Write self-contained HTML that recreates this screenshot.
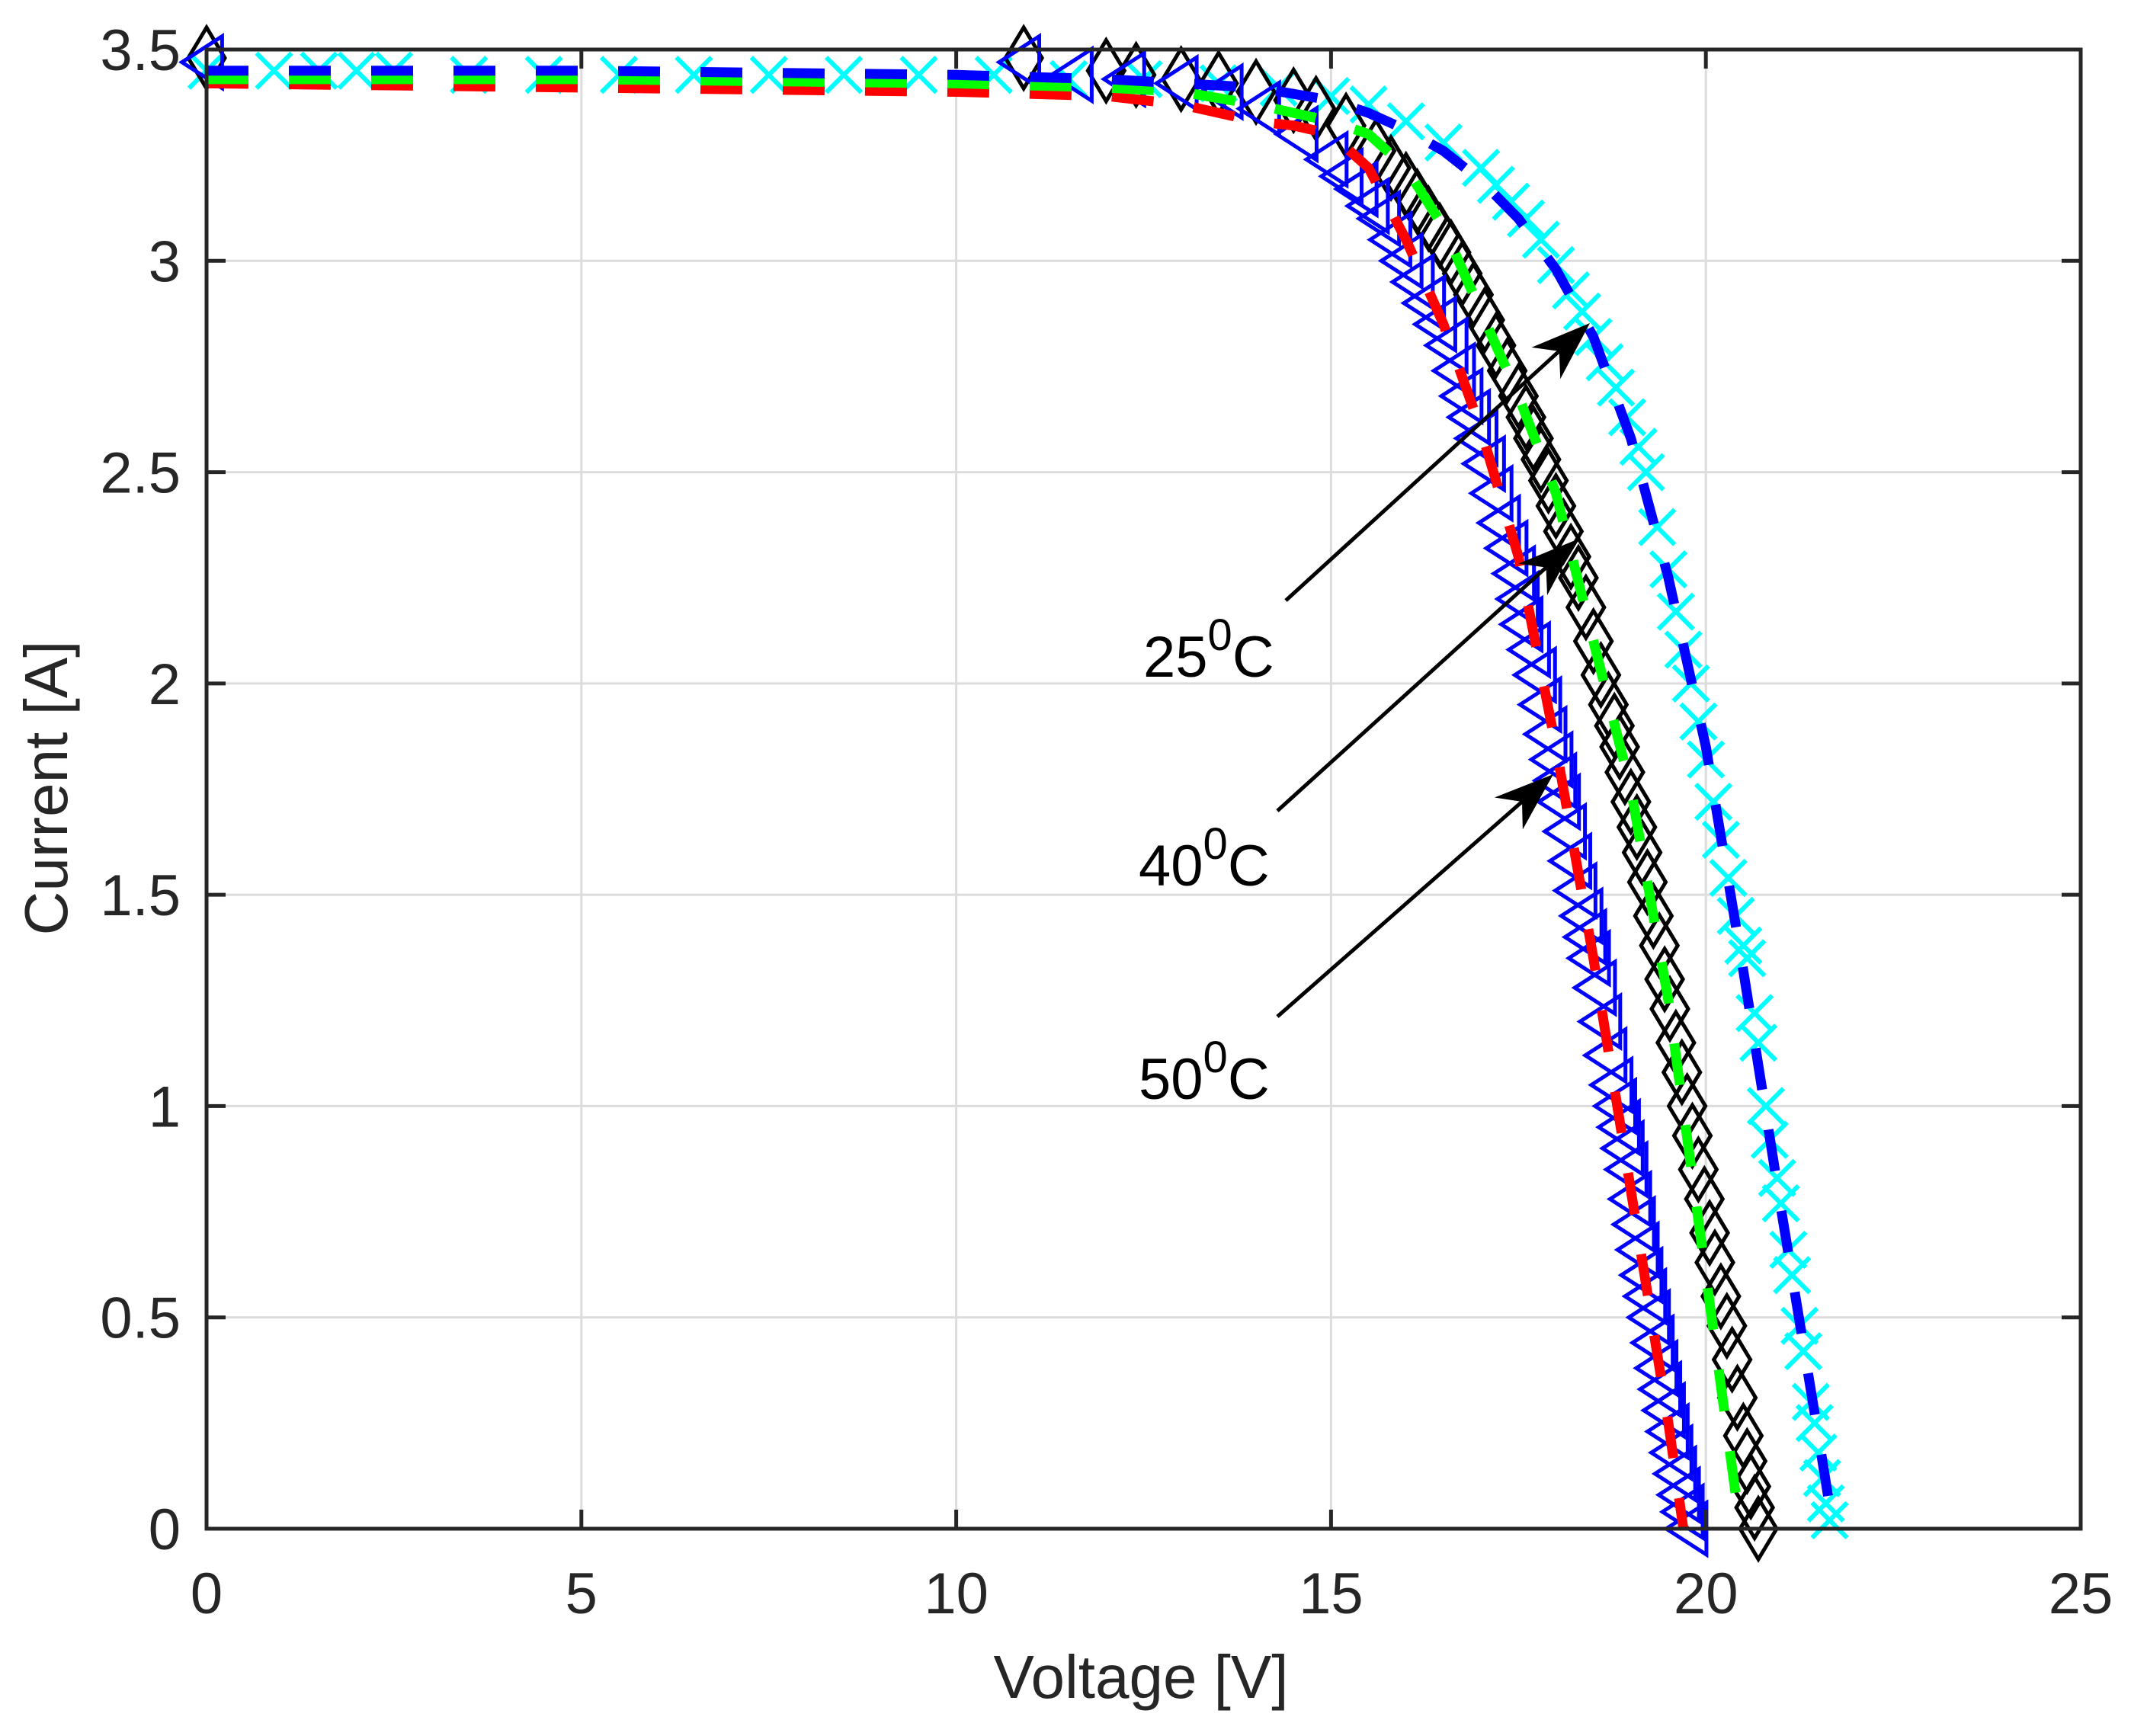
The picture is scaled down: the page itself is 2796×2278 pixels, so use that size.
<!DOCTYPE html>
<html><head><meta charset="utf-8"><style>
html,body{margin:0;padding:0;background:#fff;}
svg{display:block;font-family:"Liberation Sans",Arial,sans-serif;}
</style></head><body>
<svg id="chart" width="2796" height="2278" viewBox="0 0 2796 2278" xmlns="http://www.w3.org/2000/svg">
<rect x="0" y="0" width="2796" height="2278" fill="#fff"/>
<g id="grid"></g>
<g id="series"></g>
<g id="axes"></g>
<g id="annot"></g>
</svg>
<script>
const xTicks = [0,5,10,15,20,25];
const yTicks = [0,0.5,1,1.5,2,2.5,3,3.5];
const yTickLabels = ["0","0.5","1","1.5","2","2.5","3","3.5"];

const blueV = [0,5,10,12,13,14,15,15.5,16,16.5,17,17.5,18,18.5,19,19.5,20,20.5,21,21.5,21.7];
const blueI = [3.45,3.45,3.44,3.43,3.42,3.41,3.38,3.35,3.31,3.26,3.19,3.1,2.98,2.82,2.58,2.25,1.85,1.32,0.76,0.22,0];
const greenV = [0,5,10,12,13,14,14.5,15,15.5,16,16.5,17,17.5,18,18.5,19,19.5,20,20.46];
const greenI = [3.43,3.43,3.42,3.41,3.4,3.37,3.35,3.33,3.3,3.22,3.08,2.88,2.68,2.45,2.1,1.75,1.25,0.6,0];
const redV = [0,5,10,12,13,13.5,14,14.5,15,15.5,16,16.5,17,17.5,18,18.5,19,19.5,19.7];
const redI = [3.42,3.41,3.4,3.39,3.37,3.35,3.33,3.32,3.3,3.22,3.05,2.85,2.6,2.3,1.85,1.35,0.8,0.25,0];

const cyanV = [0,0.9,1.5,2,2.5,3.5,4.5,5.5,6.5,7.5,8.5,9.5,10.5,11.5,12.5,13.5,14.3,15,15.5,16,16.5,17,17.2,17.4,17.6,17.8,18,18.2,18.35,18.5,18.65,18.8,18.95,19.1,19.2,19.35,19.5,19.6,19.7,19.8,19.9,20,20.1,20.2,20.3,20.4,20.5,20.55,20.65,20.7,20.8,20.85,20.95,21,21.1,21.15,21.25,21.3,21.4,21.45,21.5,21.55,21.6,21.65];
const cyanI = [3.45,3.45,3.45,3.45,3.45,3.44,3.44,3.44,3.44,3.44,3.44,3.44,3.44,3.43,3.43,3.42,3.41,3.39,3.37,3.33,3.28,3.22,3.18,3.14,3.1,3.05,2.99,2.93,2.88,2.82,2.76,2.7,2.63,2.56,2.5,2.37,2.27,2.17,2.08,2.0,1.91,1.82,1.72,1.63,1.54,1.45,1.38,1.35,1.22,1.15,1.0,0.92,0.83,0.77,0.66,0.6,0.48,0.42,0.3,0.25,0.18,0.12,0.06,0.02];
const triV = [0,10.9,11.6,12.3,13,13.6,14.1,14.6,15.0,15.2,15.4,15.55,15.7,15.85,16.0,16.15,16.3,16.45,16.6,16.7,16.8,16.9,17.0,17.1,17.2,17.3,17.4,17.5,17.55,17.6,17.7,17.78,17.85,17.92,18.0,18.05,18.1,18.18,18.25,18.32,18.4,18.45,18.5,18.58,18.65,18.72,18.8,18.85,18.9,18.95,19.0,19.05,19.1,19.15,19.2,19.25,19.3,19.35,19.4,19.45,19.5,19.55,19.6,19.65,19.7,19.75,19.8];
const triI = [3.47,3.47,3.44,3.43,3.42,3.4,3.36,3.3,3.24,3.2,3.17,3.13,3.1,3.05,3.0,2.95,2.9,2.85,2.8,2.74,2.68,2.63,2.58,2.52,2.45,2.38,2.32,2.26,2.2,2.14,2.08,2.02,1.95,1.88,1.82,1.77,1.72,1.65,1.58,1.51,1.45,1.4,1.35,1.28,1.2,1.12,1.05,1.0,0.95,0.9,0.85,0.78,0.72,0.66,0.6,0.55,0.5,0.44,0.38,0.33,0.28,0.23,0.18,0.13,0.08,0.04,0.0];
const diaV = [0,10.9,12,12.4,13,13.5,14,14.5,14.8,15.2,15.6,15.8,16,16.15,16.3,16.45,16.6,16.75,16.9,17.05,17.2,17.35,17.5,17.6,17.7,17.8,17.9,18.0,18.1,18.2,18.3,18.4,18.5,18.6,18.7,18.78,18.85,18.92,19.0,19.08,19.15,19.22,19.3,19.38,19.45,19.52,19.6,19.68,19.75,19.82,19.9,19.98,20.05,20.12,20.2,20.28,20.35,20.42,20.5,20.55,20.6,20.65,20.7];
const diaI = [3.48,3.48,3.45,3.44,3.43,3.42,3.4,3.38,3.36,3.32,3.26,3.22,3.18,3.14,3.1,3.06,3.02,2.97,2.92,2.86,2.8,2.74,2.68,2.63,2.58,2.53,2.48,2.42,2.36,2.3,2.25,2.18,2.1,2.02,1.95,1.9,1.85,1.79,1.72,1.66,1.6,1.53,1.45,1.38,1.3,1.23,1.15,1.08,1.0,0.93,0.85,0.78,0.7,0.63,0.55,0.48,0.4,0.31,0.22,0.16,0.1,0.05,0.0];

const L=271, R=2730, T=65, B=2006;
const xMax=25, yMax=3.5;
function sx(v){return L+(v/xMax)*(R-L);}
function sy(v){return B-(v/yMax)*(B-T);}
const NS="http://www.w3.org/2000/svg";
function mk(tag,attrs,parent){const e=document.createElementNS(NS,tag);for(const k in attrs)e.setAttribute(k,attrs[k]);parent.appendChild(e);return e;}

const grid=document.getElementById('grid');
const axes=document.getElementById('axes');
const series=document.getElementById('series');
const annot=document.getElementById('annot');

xTicks.forEach(t=>{
  const g=mk('line',{x1:sx(t),x2:sx(t),y1:T,y2:B,stroke:'#dcdcdc','stroke-width':3},grid);
  
  
  const tb=mk('line',{x1:sx(t),x2:sx(t),y1:B,y2:B-25,stroke:'#262626','stroke-width':5},axes);
  
  
  const tt=mk('line',{x1:sx(t),x2:sx(t),y1:T,y2:T+25,stroke:'#262626','stroke-width':5},axes);
  
  
  const lb=mk('text',{x:sx(t),y:2117,'text-anchor':'middle','font-size':76,fill:'#262626'},axes);
  lb.textContent=String(t);
  
  
});
yTicks.forEach((t,i)=>{
  const g=mk('line',{x1:L,x2:R,y1:sy(t),y2:sy(t),stroke:'#dcdcdc','stroke-width':3},grid);
  
  
  const tl=mk('line',{x1:L,x2:L+25,y1:sy(t),y2:sy(t),stroke:'#262626','stroke-width':5},axes);
  
  
  const tr=mk('line',{x1:R,x2:R-25,y1:sy(t),y2:sy(t),stroke:'#262626','stroke-width':5},axes);
  
  
  const lb=mk('text',{x:237,y:sy(t)+27,'text-anchor':'end','font-size':76,fill:'#262626'},axes);
  lb.textContent=yTickLabels[i];
  
  
});
const box=mk('rect',{x:L,y:T,width:R-L,height:B-T,fill:'none',stroke:'#262626','stroke-width':5},axes);


const xl=mk('text',{x:1497,y:2228,'text-anchor':'middle','font-size':80,fill:'#262626'},axes);
xl.textContent='Voltage [V]';


const yl=mk('text',{x:0,y:0,'text-anchor':'middle','font-size':80,fill:'#262626',transform:'translate(88,1034) rotate(-90)'},axes);
yl.textContent='Current [A]';



function pts(V,I){return V.map((v,i)=>sx(v)+','+sy(I[i])).join(' ');}

// cyan x markers
const gc=mk('g',{stroke:'#00ffff','stroke-width':6,fill:'none'},series);


cyanV.forEach((v,i)=>{const x=sx(v),y=sy(cyanI[i]),s=23;
  const p=mk('path',{d:`M${x-s},${y-s}L${x+s},${y+s}M${x-s},${y+s}L${x+s},${y-s}`},gc);
  
  
});
// black diamonds
const gd=mk('g',{stroke:'#000','stroke-width':5,fill:'none'},series);


diaV.forEach((v,i)=>{const x=sx(v),y=sy(diaI[i]),w=24,h=40;
  const p=mk('path',{d:`M${x},${y-h}L${x+w},${y}L${x},${y+h}L${x-w},${y}Z`},gd);
  
  
});
// blue triangles
const gt=mk('g',{stroke:'#0000ff','stroke-width':5,fill:'none'},series);


triV.forEach((v,i)=>{const x=sx(v),y=sy(triI[i]),s=34;
  const p=mk('path',{d:`M${x-s*0.95},${y}L${x+s*0.6},${y-s}L${x+s*0.6},${y+s}Z`},gt);
  
  
});
// dashed lines
const lr=mk('polyline',{points:pts(redV,redI),fill:'none',stroke:'#ff0000','stroke-width':13,'stroke-dasharray':'55 53'},series);


const lg=mk('polyline',{points:pts(greenV,greenI),fill:'none',stroke:'#00ff00','stroke-width':13,'stroke-dasharray':'55 53'},series);


const lbl=mk('polyline',{points:pts(blueV,blueI),fill:'none',stroke:'#0000ff','stroke-width':13,'stroke-dasharray':'55 53'},series);



// annotations
const arrows=[[1687,788,2086,424,'arrow-25c'],[1676,1064,2069,708,'arrow-40c'],[1676,1334,2038,1016,'arrow-50c']];
arrows.forEach(a=>{
  const [x1,y1,x2,y2,n]=a;
  const dx=x2-x1,dy=y2-y1,len=Math.hypot(dx,dy),ux=dx/len,uy=dy/len,px=-uy,py=ux;
  const hl=78,hw=28;
  const g=mk('g',{},annot);
  
  
  mk('line',{x1:x1,y1:y1,x2:x2-ux*hl*0.6,y2:y2-uy*hl*0.6,stroke:'#000','stroke-width':5},g);
  const bx=x2-ux*hl,by=y2-uy*hl,ix=x2-ux*hl*0.7,iy=y2-uy*hl*0.7;
  mk('path',{d:`M${x2},${y2}L${bx+px*hw},${by+py*hw}L${ix},${iy}L${bx-px*hw},${by-py*hw}Z`,fill:'#000'},g);
});
const labels=[[1500,888,'25','label-25c'],[1494,1162,'40','label-40c'],[1494,1442,'50','label-50c']];
labels.forEach(l=>{
  const t=mk('text',{x:l[0],y:l[1],'font-size':76,fill:'#000'},annot);
  
  
  const a=mk('tspan',{},t);a.textContent=l[2];
  const b=mk('tspan',{dy:-35,'font-size':58},t);b.textContent='0';
  const c=mk('tspan',{dy:35},t);c.textContent='C';
});
</script>
</body></html>
